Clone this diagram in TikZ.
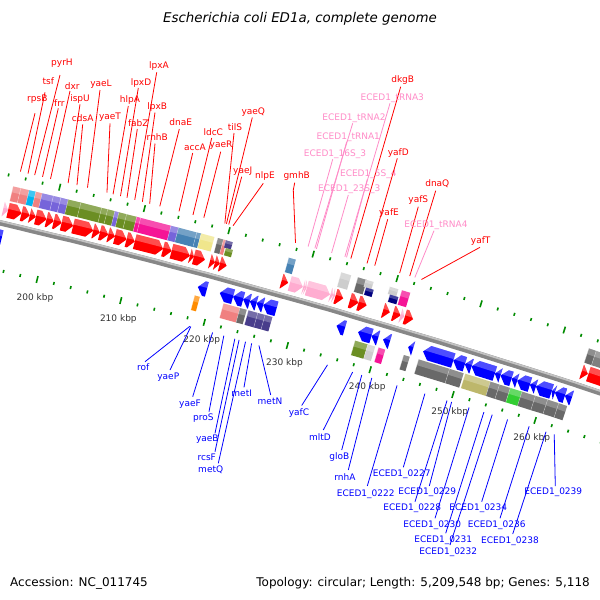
\documentclass[tikz,border=0pt]{standalone}
\usepackage{fontspec}
\setmainfont{DejaVu Sans}[ItalicFont={DejaVu Sans Oblique}]
\definecolor{fred}{RGB}{255,0,0}
\definecolor{rblue}{RGB}{0,0,255}
\definecolor{rnapink}{RGB}{255,172,208}
\definecolor{labpink}{RGB}{255,140,200}
\definecolor{tickgreen}{RGB}{0,140,0}
\definecolor{cogcoral}{RGB}{240,128,128}
\definecolor{cogsky}{RGB}{0,180,240}
\definecolor{cogslate}{RGB}{118,100,218}
\definecolor{cogolive}{RGB}{107,142,35}
\definecolor{cogpink}{RGB}{245,20,150}
\definecolor{cogsteel}{RGB}{70,130,180}
\definecolor{cogkhaki}{RGB}{240,230,140}
\definecolor{cogdim}{RGB}{105,105,105}
\definecolor{coglight}{RGB}{205,205,205}
\definecolor{cogdslate}{RGB}{72,61,139}
\definecolor{cognavy}{RGB}{0,0,128}
\definecolor{coggray}{RGB}{128,128,128}
\definecolor{cogdkhaki}{RGB}{189,183,107}
\definecolor{coglime}{RGB}{50,205,50}
\definecolor{cogorange}{RGB}{255,140,0}
\definecolor{kbpgray}{RGB}{51,51,51}
\definecolor{bbdark}{RGB}{135,135,135}
\definecolor{bblight}{RGB}{195,195,195}

\def\CX{-1661.5}\def\CY{7228.6}
\def\Rfai{7207}\def\Rfao{7222}
\def\Rfci{7224}\def\Rfco{7239}
\def\Rrai{7179}\def\Rrao{7194}
\def\Rrci{7162.5}\def\Rrco{7177.5}

\newcommand\FeatBox[5]{%
  \pgfmathsetmacro\rM{(#3+#4)/2}%
  \pgfmathsetmacro\aA{-acos((#1+1661.5)/\rM)}%
  \pgfmathsetmacro\aB{-acos((#2+1661.5)/\rM)}%
  \pgfmathsetmacro\rH{#4-0.4*(#4-#3)}%
  \fill[#5] (\aA:#3) -- (\aB:#3) -- (\aB:#4) -- (\aA:#4) -- cycle;
  \fill[white,opacity=.25] (\aA:\rH) -- (\aB:\rH) -- (\aB:#4) -- (\aA:#4) -- cycle;
  \draw[white,opacity=.5,line width=.4] (\aA:#3) -- (\aA:#4);
}
\newcommand\CogF[3]{\FeatBox{#1}{#2}{\Rfci}{\Rfco}{#3}}
\newcommand\CogR[3]{\FeatBox{#1}{#2}{\Rrci}{\Rrco}{#3}}
\newcommand\CogFs[4]{\FeatBox{#1}{#2}{7231.5}{\Rfco}{#3}\FeatBox{#1}{#2}{\Rfci}{7231.5}{#4}}

\newcommand\ArrF[3]{%
  \pgfmathsetmacro\rM{(\Rfai+\Rfao)/2}%
  \pgfmathsetmacro\hx{max(#1,#2-6)}%
  \pgfmathsetmacro\aA{-acos((#1+1661.5)/\rM)}%
  \pgfmathsetmacro\aH{-acos((\hx+1661.5)/\rM)}%
  \pgfmathsetmacro\aB{-acos((#2+1661.5)/\rM)}%
  \pgfmathsetmacro\rH{\Rfao-6}%
  \pgfmathsetmacro\aQ{\aH+0.8*(\aB-\aH)}%
  \fill[#3] (\aA:\Rfai) -- (\aH:\Rfai) -- (\aB:\rM) -- (\aH:\Rfao) -- (\aA:\Rfao) -- cycle;
  \fill[white,opacity=.3] (\aA:\rH) -- (\aQ:\rH) -- (\aH:\Rfao) -- (\aA:\Rfao) -- cycle;
}
\newcommand\ArrR[3]{%
  \pgfmathsetmacro\rM{(\Rrai+\Rrao)/2}%
  \pgfmathsetmacro\hx{min(#2,#1+6)}%
  \pgfmathsetmacro\aA{-acos((#1+1661.5)/\rM)}%
  \pgfmathsetmacro\aH{-acos((\hx+1661.5)/\rM)}%
  \pgfmathsetmacro\aB{-acos((#2+1661.5)/\rM)}%
  \pgfmathsetmacro\rH{\Rrao-6}%
  \pgfmathsetmacro\aQ{\aH+0.8*(\aA-\aH)}%
  \fill[#3] (\aA:\rM) -- (\aH:\Rrai) -- (\aB:\Rrai) -- (\aB:\Rrao) -- (\aH:\Rrao) -- cycle;
  \fill[white,opacity=.3] (\aQ:\rH) -- (\aB:\rH) -- (\aB:\Rrao) -- (\aH:\Rrao) -- cycle;
}

% name, text, colour, x of foot (on ring t=101), x top, y top, x text, y text
\newcommand\TopLab[8]{%
  \pgfmathsetmacro\aL{-acos((#4+1661.5)/7255)}%
  \path[shift={(\CX,\CY)}] (\aL:7255) coordinate (#1b);
  \coordinate (#1t) at (#5,#6);
  \node[lab,text=#3,anchor=base] (#1) at ({#7},{#8+3.5}) {#2};
  \draw[#3,line width=.8] (#1b) -- (#1t);
}
% name, text, x of foot (ring t=-7.5), x top, y top, x text, y text
\newcommand\BotLab[7]{%
  \pgfmathsetmacro\aL{-acos((#3+1661.5)/7146.5)}%
  \path[shift={(\CX,\CY)}] (\aL:7146.5) coordinate (#1b);
  \coordinate (#1t) at (#4,#5);
  \node[lab,text=rblue,anchor=base] (#1) at ({#6},{#7+3.5}) {#2};
  \draw[rblue,line width=.8] (#1b) -- (#1t);
}

\tikzset{
  lab/.style={font=\fontsize{9}{10}\selectfont, inner sep=0pt},
  kbp/.style={font=\fontsize{9}{10}\selectfont, text=kbpgray, inner sep=0pt},
  tickm/.style={tickgreen, line width=1.6},
}

\begin{document}
\begin{tikzpicture}[x=1pt,y=-1pt]
\useasboundingbox (0,0) rectangle (600,600);
\fill[white] (0,0) rectangle (600,600);
\clip (0,0) rectangle (600,600);

\begin{scope}[shift={(\CX,\CY)}]
% backbone
\draw[bbdark, line width=5.5] plot[domain=-77:-71, samples=60] (\x:7200.5);
\draw[bblight, line width=1.8] plot[domain=-77:-71, samples=60] (\x:7202.2);

% forward arrows
\ArrF{3.3}{8.3}{rnapink}
\ArrF{8.3}{21.7}{fred}\ArrF{21.7}{30}{fred}\ArrF{30}{36}{fred}\ArrF{36}{46.7}{fred}
\ArrF{46.7}{54}{fred}\ArrF{54}{61.7}{fred}\ArrF{61.7}{73.3}{fred}\ArrF{73.3}{93.3}{fred}
\ArrF{93.3}{100}{fred}\ArrF{100}{108.3}{fred}\ArrF{108.3}{115}{fred}\ArrF{115}{126.7}{fred}
\ArrF{126.7}{135}{fred}\ArrF{135}{163.3}{fred}\ArrF{163.3}{171.7}{fred}\ArrF{171.7}{190}{fred}
\ArrF{190}{194}{fred}\ArrF{194}{205}{fred}\ArrF{210}{215}{fred}\ArrF{215}{220}{fred}
\ArrF{220}{226.7}{fred}\ArrF{281.7}{288.3}{fred}
\ArrF{290}{303}{rnapink}\ArrF{303.3}{305}{rnapink}\ArrF{305}{306.7}{rnapink}
\ArrF{307}{330}{rnapink}\ArrF{330.5}{333}{rnapink}\ArrF{333.2}{335}{rnapink}
\ArrF{335.5}{343.3}{fred}\ArrF{350}{358.3}{fred}\ArrF{358.5}{366.7}{fred}
\ArrF{383.3}{390}{fred}\ArrF{393.3}{400.7}{fred}\ArrF{400.7}{404.5}{rnapink}
\ArrF{405}{413.3}{fred}\ArrF{581.7}{588}{fred}\ArrF{588.5}{620}{fred}

% reverse arrows
\ArrR{-8}{2}{rblue}\ArrR{198}{207}{rblue}
\ArrR{220}{233.3}{rblue}\ArrR{233.3}{243.3}{rblue}\ArrR{243.3}{250}{rblue}
\ArrR{250}{256.7}{rblue}\ArrR{256.7}{263.3}{rblue}\ArrR{263.3}{276.7}{rblue}
\ArrR{336.7}{345}{rblue}\ArrR{358.3}{371.7}{rblue}\ArrR{371.7}{378.3}{rblue}
\ArrR{383.3}{390}{rblue}\ArrR{408.3}{413.3}{rblue}
\ArrR{423.3}{453.3}{rblue}\ArrR{453.3}{465}{rblue}\ArrR{465}{471.7}{rblue}
\ArrR{471.7}{495}{rblue}\ArrR{495}{500.7}{rblue}\ArrR{500.7}{511.7}{rblue}
\ArrR{511.7}{517.3}{rblue}\ArrR{517.3}{530}{rblue}\ArrR{530}{536}{rblue}
\ArrR{536}{551.7}{rblue}\ArrR{551.7}{555}{rblue}\ArrR{555}{565}{rblue}
\ArrR{565}{571.7}{rblue}

% forward COG boxes
\CogF{11.7}{19.3}{cogcoral}\CogF{19.3}{27.7}{cogcoral}\CogF{27.7}{34.3}{cogsky}
\CogF{34.3}{40.7}{cogcoral}\CogF{40.7}{51.7}{cogslate}\CogF{51.7}{59.3}{cogslate}
\CogF{59.3}{66.7}{cogslate}\CogF{66.7}{79.3}{cogolive}\CogF{79.3}{100}{cogolive}
\CogF{100}{106}{cogolive}\CogF{106}{113.3}{cogolive}\CogF{113.3}{117.3}{cogslate}
\CogF{117.3}{125}{cogolive}\CogF{125}{135}{cogolive}\CogF{135}{139}{cogpink}
\CogF{139}{169.3}{cogpink}\CogF{169.3}{176.7}{cogslate}\CogF{176.7}{195}{cogsteel}
\CogF{195}{199.3}{cogsteel}\CogF{199.3}{212.7}{cogkhaki}\CogF{216}{221.7}{cogdim}
\CogF{221.7}{225}{cogcoral}\CogFs{225}{232}{cogdslate}{cogolive}
\CogF{287}{294}{cogsteel}\CogF{339.3}{349.3}{coglight}\CogF{356}{365}{cogdim}
\CogFs{365}{372.7}{coglight}{cognavy}\CogFs{389}{397.5}{coglight}{cognavy}
\CogF{400}{408.3}{cogpink}\CogF{586.7}{594}{cogdim}\CogF{594}{620}{coggray}

% reverse COG boxes
\CogR{193}{198}{cogorange}\CogR{221.7}{238.3}{cogcoral}\CogR{238.3}{245}{cogdim}
\CogR{246.7}{256}{cogdslate}\CogR{256}{263.3}{cogdslate}\CogR{263.3}{270.7}{cogdslate}
\CogR{353.3}{366}{cogolive}\CogR{366}{373.3}{coglight}\CogR{376.7}{383.3}{cogpink}
\CogR{401.7}{407.7}{cogdim}\CogR{416.7}{447.5}{cogdim}\CogR{447.5}{461.7}{cogdim}
\CogR{463.3}{488.3}{cogdkhaki}\CogR{488.3}{497.5}{cogdim}\CogR{497.5}{508.3}{cogdim}
\CogR{508.3}{520}{coglime}\CogR{520}{533.3}{cogdim}\CogR{533.3}{545.5}{cogdim}
\CogR{545.5}{556.5}{cogdim}\CogR{556.5}{565}{cogdim}

% tick rings
\foreach \p in {188,190,...,272}{
  \pgfmathsetmacro\ta{-74.19+0.069104*(\p-230)}
  \pgfmathtruncatemacro\ismaj{mod(\p,10)==0}
  \ifnum\ismaj=1 \def\tl{3.5}\else\def\tl{1.5}\fi
  \pgfmathsetmacro\ria{7154-\tl}\pgfmathsetmacro\rib{7154+\tl}
  \pgfmathsetmacro\roa{7249-\tl}\pgfmathsetmacro\rob{7249+\tl}
  \draw[tickm] (\ta:\ria) -- (\ta:\rib);
  \draw[tickm] (\ta:\roa) -- (\ta:\rob);
}
\foreach \p in {200,210,...,260}{
  \pgfmathsetmacro\ta{-74.19+0.069104*(\p+0.25-230)}
  \node[kbp] (k\p) at (\ta:7136) {\p\ kbp};
}
\end{scope}

% forward labels
\TopLab{rpsB}{rpsB}{fred}{20.7}{35}{113.3}{37.3}{97.7}
\TopLab{tsf}{tsf}{fred}{28.3}{45}{92.3}{48.3}{81}
\TopLab{pyrH}{pyrH}{fred}{35}{60}{75}{62}{62}
\TopLab{frr}{frr}{fred}{42.7}{58.3}{108.3}{59.3}{103.3}
\TopLab{dxr}{dxr}{fred}{50.7}{70}{91}{72.3}{85.7}
\TopLab{ispU}{ispU}{fred}{68.3}{80}{104.3}{80}{97.7}
\TopLab{cdsA}{cdsA}{fred}{77.3}{82.7}{124.3}{82.7}{118.3}
\TopLab{yaeL}{yaeL}{fred}{87.7}{100}{90}{101}{83}
\TopLab{yaeT}{yaeT}{fred}{107.3}{110}{123.3}{110}{116}
\TopLab{hlpA}{hlpA}{fred}{113.3}{128.3}{106}{130}{99}
\TopLab{lpxD}{lpxD}{fred}{120.7}{138.3}{88}{141}{82}
\TopLab{fabZ}{fabZ}{fred}{127.3}{137.3}{129}{138.3}{122.7}
\TopLab{lpxA}{lpxA}{fred}{135}{156.7}{72.3}{159}{65}
\TopLab{lpxB}{lpxB}{fred}{142.7}{155}{112.5}{157.3}{105.7}
\TopLab{rnhB}{rnhB}{fred}{150}{155}{143.5}{157.3}{136.7}
\TopLab{dnaE}{dnaE}{fred}{160}{179.3}{129}{180.7}{122.3}
\TopLab{accA}{accA}{fred}{179.3}{192.7}{153}{195}{146.7}
\TopLab{ldcC}{ldcC}{fred}{193.3}{211.7}{138}{213.3}{131.7}
\TopLab{yaeR}{yaeR}{fred}{204}{220.7}{151.7}{221}{143.7}
\TopLab{tilS}{tilS}{fred}{225}{234}{133}{235}{126.7}
\TopLab{yaeQ}{yaeQ}{fred}{226.7}{252.3}{117.5}{253.3}{111}
\TopLab{yaeJ}{yaeJ}{fred}{229}{241.7}{176.7}{242.7}{170}
\TopLab{nlpE}{nlpE}{fred}{233.3}{263.3}{183.3}{265}{175}
\TopLab{gmhB}{gmhB}{fred}{295.7}{293.3}{190}{296.7}{175}
\coordinate (gmhBk) at (294.7,182.7);
\draw[fred,line width=.8] (gmhBt) -- (gmhBk);
\TopLab{dkgB}{dkgB}{fred}{351}{400.7}{86.7}{402.7}{79.3}
\TopLab{trna3}{ECED1\_tRNA3}{labpink}{345}{390}{103.3}{392.3}{97.3}
\TopLab{trna2}{ECED1\_tRNA2}{labpink}{315}{352.7}{123.3}{354}{117.3}
\TopLab{trna1}{ECED1\_tRNA1}{labpink}{316.7}{346.7}{141.7}{348.3}{136}
\TopLab{s16}{ECED1\_16S\_3}{labpink}{308.3}{332.7}{159.3}{335}{152.7}
\TopLab{s5}{ECED1\_5S\_4}{labpink}{346.7}{367.3}{179.3}{368.3}{173.3}
\TopLab{s23}{ECED1\_23S\_3}{labpink}{331.7}{348.3}{195}{349.3}{188.3}
\TopLab{yafD}{yafD}{fred}{367.3}{397.3}{158.3}{398.3}{151.7}
\TopLab{yafE}{yafE}{fred}{375}{387.7}{219.3}{389}{211.7}
\TopLab{yafS}{yafS}{fred}{400}{418.3}{206.7}{418.3}{199.3}
\TopLab{dnaQ}{dnaQ}{fred}{410}{435.7}{190.7}{437.3}{183.3}
\TopLab{trna4}{ECED1\_tRNA4}{labpink}{415}{434}{230.7}{436}{224.3}
\TopLab{yafT}{yafT}{fred}{421.7}{480}{247.3}{480.7}{240}

% reverse labels
\BotLab{rof}{rof}{190}{145}{361.7}{143.3}{366.7}
\BotLab{yaeP}{yaeP}{191}{170}{370}{168.3}{376}
\BotLab{yaeF}{yaeF}{212.7}{192.7}{396.7}{190}{402.7}
\BotLab{proS}{proS}{224}{209}{411.7}{203.3}{416.7}
\BotLab{yaeB}{yaeB}{235}{215}{433.3}{207.3}{438.3}
\BotLab{rcsF}{rcsF}{239.3}{215}{451.7}{206.7}{457.3}
\BotLab{metQ}{metQ}{245.7}{218.3}{463.3}{210.7}{469.3}
\BotLab{metI}{metI}{251.7}{244}{387.3}{241.7}{393.3}
\BotLab{metN}{metN}{259}{270.7}{395}{270}{401}
\BotLab{yafC}{yafC}{327.7}{301.7}{405.5}{299}{412.3}
\BotLab{mltD}{mltD}{352.7}{323.3}{430}{320}{437}
\BotLab{gloB}{gloB}{362}{341.7}{450}{339.3}{456}
\BotLab{rnhA}{rnhA}{372}{348.3}{470}{345}{476.7}
\BotLab{e0222}{ECED1\_0222}{397.3}{367.3}{486}{365.7}{492.7}
\BotLab{e0227}{ECED1\_0227}{425}{403.3}{467.3}{401.7}{472.7}
\BotLab{e0228}{ECED1\_0228}{447.3}{415}{501.7}{412.3}{507.3}
\BotLab{e0229}{ECED1\_0229}{451.7}{429.3}{486}{427.3}{491}
\BotLab{e0230}{ECED1\_0230}{469.3}{435}{518.3}{432.3}{524}
\BotLab{e0231}{ECED1\_0231}{484}{445.7}{533.3}{443.3}{539}
\BotLab{e0232}{ECED1\_0232}{492.3}{450}{545}{448.3}{550.7}
\BotLab{e0234}{ECED1\_0234}{507.7}{481.7}{501.7}{478.3}{507.3}
\BotLab{e0236}{ECED1\_0236}{529.3}{500}{518.3}{496.7}{524}
\BotLab{e0238}{ECED1\_0238}{546}{512.7}{534}{510}{540}
\BotLab{e0239}{ECED1\_0239}{554.3}{555.3}{486}{553.3}{490.7}

% title and footer
\node[anchor=base, inner sep=0pt, font=\fontsize{13.4}{15}\selectfont\itshape] (title) at (300,22.5) {Escherichia coli ED1a, complete genome};
\node[anchor=base west, inner sep=0pt, font=\fontsize{12}{14}\selectfont] (acc) at (10,586.5) {Accession: NC\_011745};
\node[anchor=base east, inner sep=0pt, font=\fontsize{12}{14}\selectfont] (topo) at (590,586.5) {Topology: circular; Length: 5,209,548 bp; Genes: 5,118};
\end{tikzpicture}
\end{document}
